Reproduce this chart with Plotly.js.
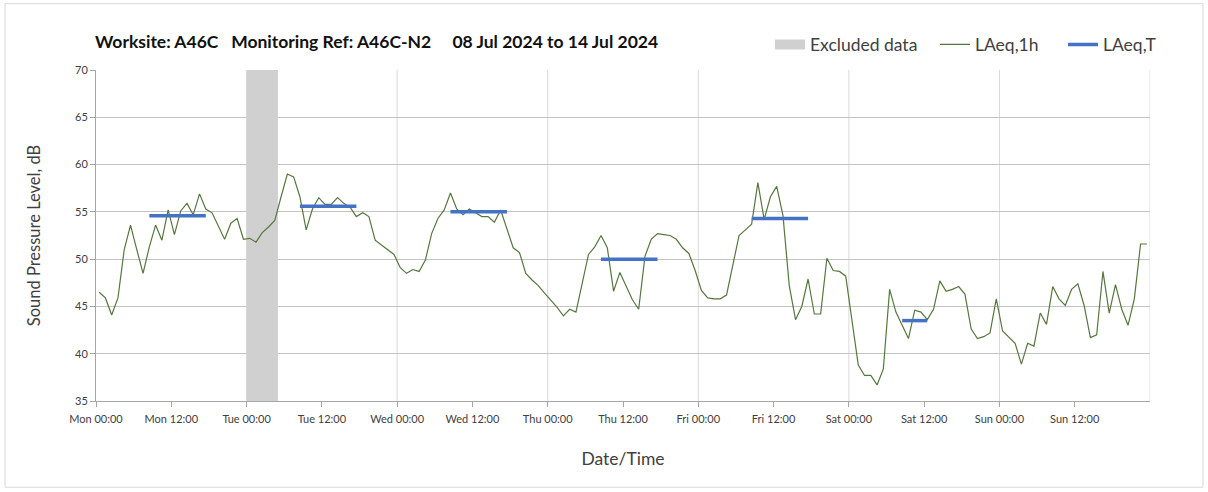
<!DOCTYPE html>
<html><head><meta charset="utf-8">
<script src="https://cdn.plot.ly/plotly-3.0.1.min.js"></script>
<style>html,body{margin:0;padding:0;background:#fff}#chart{width:1208px;height:492px}</style>
</head><body><div id="chart"></div>
<script>
// Hourly LAeq,1h values, first hour centred on Mon 08 Jul 2024 00:30
const firstHourMid = Date.UTC(2024, 6, 8, 0, 30);
const laeq1h = [
  46.5, 45.9, 44.1, 45.9, 51.0, 53.6, 51.0, 48.5, 51.3, 53.6, 52.0, 55.2,
  52.6, 55.1, 55.9, 54.7, 56.9, 55.3, 54.9, 53.5, 52.1, 53.8, 54.3, 52.1,
  52.2, 51.8, 52.8, 53.4, 54.1, 56.6, 59.0, 58.7, 56.6, 53.1, 55.3, 56.5,
  55.8, 55.8, 56.5, 55.9, 55.5, 54.5, 54.9, 54.5, 52.0, 51.5, 51.0, 50.5,
  49.1, 48.5, 48.9, 48.7, 49.9, 52.7, 54.3, 55.2, 57.0, 55.3, 54.7, 55.3,
  54.9, 54.5, 54.5, 53.9, 55.2, 53.2, 51.2, 50.7, 48.5, 47.8, 47.2, 46.4,
  45.7, 44.9, 44.0, 44.7, 44.4, 47.4, 50.5, 51.3, 52.5, 51.2, 46.6, 48.6,
  47.1, 45.7, 44.7, 50.3, 52.1, 52.7, 52.6, 52.5, 52.1, 51.2, 50.6, 48.8,
  46.7, 45.9, 45.8, 45.8, 46.2, 49.4, 52.5, 53.1, 53.7, 58.1, 54.2, 56.6,
  57.7, 54.6, 47.2, 43.6, 45.0, 47.9, 44.2, 44.2, 50.1, 48.8, 48.7, 48.2,
  43.4, 38.8, 37.7, 37.7, 36.7, 38.4, 46.8, 44.4, 43.0, 41.6, 44.6, 44.4,
  43.6, 44.7, 47.7, 46.6, 46.8, 47.1, 46.3, 42.6, 41.6, 41.8, 42.2, 45.8,
  42.4, 41.8, 41.1, 38.9, 41.1, 40.8, 44.3, 43.1, 47.1, 45.8, 45.1, 46.8,
  47.4, 45.1, 41.7, 42.0, 48.7, 44.3, 47.3, 44.7, 43.0, 45.8, 51.6, 51.6
];

// LAeq,T periods
const periodStart = ['2024-07-08 08:30', '2024-07-09 08:30', '2024-07-10 08:30',
                     '2024-07-11 08:30', '2024-07-12 08:30', '2024-07-13 08:30'];
const periodEnd   = ['2024-07-08 17:30', '2024-07-09 17:30', '2024-07-10 17:30',
                     '2024-07-11 17:30', '2024-07-12 17:30', '2024-07-13 12:30'];
const laeqT = [54.6, 55.6, 55.0, 50.0, 54.3, 43.5];

// Excluded data period
const excludedStart = ['2024-07-09 00:00'];
const excludedEnd   = ['2024-07-09 05:00'];

// Axes
const xRange = ['2024-07-08 00:00', '2024-07-15 00:00'];
const xTickVals = ['2024-07-08 00:00', '2024-07-08 12:00', '2024-07-09 00:00', '2024-07-09 12:00',
                   '2024-07-10 00:00', '2024-07-10 12:00', '2024-07-11 00:00', '2024-07-11 12:00',
                   '2024-07-12 00:00', '2024-07-12 12:00', '2024-07-13 00:00', '2024-07-13 12:00',
                   '2024-07-14 00:00', '2024-07-14 12:00'];
const dayLines = ['2024-07-09 00:00', '2024-07-10 00:00', '2024-07-11 00:00',
                  '2024-07-12 00:00', '2024-07-13 00:00', '2024-07-14 00:00', '2024-07-15 00:00'];
const yRange = [35, 70];

function pad(n){ return (n < 10 ? '0' : '') + n; }
function fmt(ms){
  const d = new Date(ms);
  return d.getUTCFullYear() + '-' + pad(d.getUTCMonth()+1) + '-' + pad(d.getUTCDate()) +
         ' ' + pad(d.getUTCHours()) + ':' + pad(d.getUTCMinutes());
}
const hourX = laeq1h.map((v, i) => fmt(firstHourMid + i * 3600000));

const exX = [], exY = [];
excludedStart.forEach((s, i) => {
  if (i > 0) { exX.push(null); exY.push(null); }
  exX.push(s, excludedEnd[i], excludedEnd[i], s, s);
  exY.push(yRange[0], yRange[0], yRange[1], yRange[1], yRange[0]);
});

const tX = [], tY = [];
laeqT.forEach((v, i) => {
  tX.push(periodStart[i], periodEnd[i], null);
  tY.push(v, v, null);
});

const fontFam = 'Lato, "Open Sans", sans-serif';
const txt = '#404040';
const exColor = '#d0d0d0';

const traces = [
  { x: exX, y: exY, type: 'scatter', mode: 'lines', fill: 'toself',
    fillcolor: exColor, line: {width: 0, color: exColor},
    name: 'Excluded data', hoverinfo: 'skip', showlegend: false, legendgroup: 'ex' },
  // legend key for the excluded band (drawn as a thick swatch)
  { x: [null], y: [null], type: 'scatter', mode: 'lines',
    line: {width: 11, color: exColor}, name: 'Excluded data', legend: 'legend', legendgroup: 'ex' },
  { x: hourX, y: laeq1h, type: 'scatter', mode: 'lines',
    line: {color: '#56773f', width: 1.2}, name: 'LAeq,1h', legend: 'legend2' },
  { x: tX, y: tY, type: 'scatter', mode: 'lines',
    line: {color: '#4472c4', width: 3.5}, name: 'LAeq,T', connectgaps: false, legend: 'legend3' }
];

const W = 1208, H = 492, L = 96, R = 1150, T = 69.5, B = 401.5;
const px = p => (p - L) / (R - L);
const py = p => (B - p) / (B - T);

const shapes = dayLines.map(d => ({
  type: 'line', xref: 'x', yref: 'paper', x0: d, x1: d, y0: 0, y1: 1,
  line: {color: '#d9d9d9', width: 1}, layer: 'below'
}));
shapes.push({ type: 'rect', xref: 'paper', yref: 'paper',
  x0: px(5), x1: px(1203), y0: py(488), y1: py(3),
  line: {color: '#d9d9d9', width: 1}, fillcolor: 'rgba(0,0,0,0)', layer: 'below' });

const legFont = {family: fontFam, size: 17.5, color: txt};
const legBase = {orientation: 'h', xanchor: 'left', yanchor: 'middle', y: py(44),
  font: legFont, bgcolor: 'rgba(0,0,0,0)', itemwidth: 30, borderwidth: 0};

const layout = {
  width: W, height: H,
  margin: {l: L, r: W - R, t: T, b: H - B, pad: 0},
  paper_bgcolor: '#fff', plot_bgcolor: '#fff',
  font: {family: fontFam, color: txt},
  showlegend: true,
  title: {
    text: 'Worksite: A46C\u00a0\u00a0\u00a0Monitoring Ref: A46C-N2\u00a0\u00a0\u00a0\u00a0\u00a008 Jul 2024 to 14 Jul 2024',
    font: {family: fontFam, size: 17.5, color: '#111111', weight: 'bold'},
    xref: 'container', yref: 'container', x: 95 / W, xanchor: 'left',
    y: 1 - 42 / H, yanchor: 'middle'
  },
  legend:  Object.assign({}, legBase, {x: px(770)}),
  legend2: Object.assign({}, legBase, {x: px(935)}),
  legend3: Object.assign({}, legBase, {x: px(1063)}),
  xaxis: {
    type: 'date', range: xRange, tickmode: 'array', tickvals: xTickVals,
    tickformat: '%a %H:%M', showgrid: false, zeroline: false,
    showline: true, linecolor: '#a6a6a6', linewidth: 1,
    ticks: 'outside', ticklen: 5, tickcolor: '#a6a6a6', ticklabelstandoff: 3,
    tickfont: {family: fontFam, size: 11, color: txt},
    title: {text: 'Date/Time', font: {family: fontFam, size: 17.5, color: txt}, standoff: 28}
  },
  yaxis: {
    range: yRange, dtick: 5, tick0: 35, showgrid: true, gridcolor: '#c4c4c4',
    zeroline: false, showline: true, linecolor: '#a6a6a6', linewidth: 1,
    ticks: 'outside', ticklen: 5, tickcolor: '#a6a6a6',
    tickfont: {family: fontFam, size: 11, color: txt},
    title: {text: 'Sound Pressure Level, dB', font: {family: fontFam, size: 16.5, color: txt}, standoff: 30}
  },
  shapes: shapes
};

Plotly.newPlot('chart', traces, layout, {displayModeBar: false, staticPlot: true});
</script>
</body></html>
